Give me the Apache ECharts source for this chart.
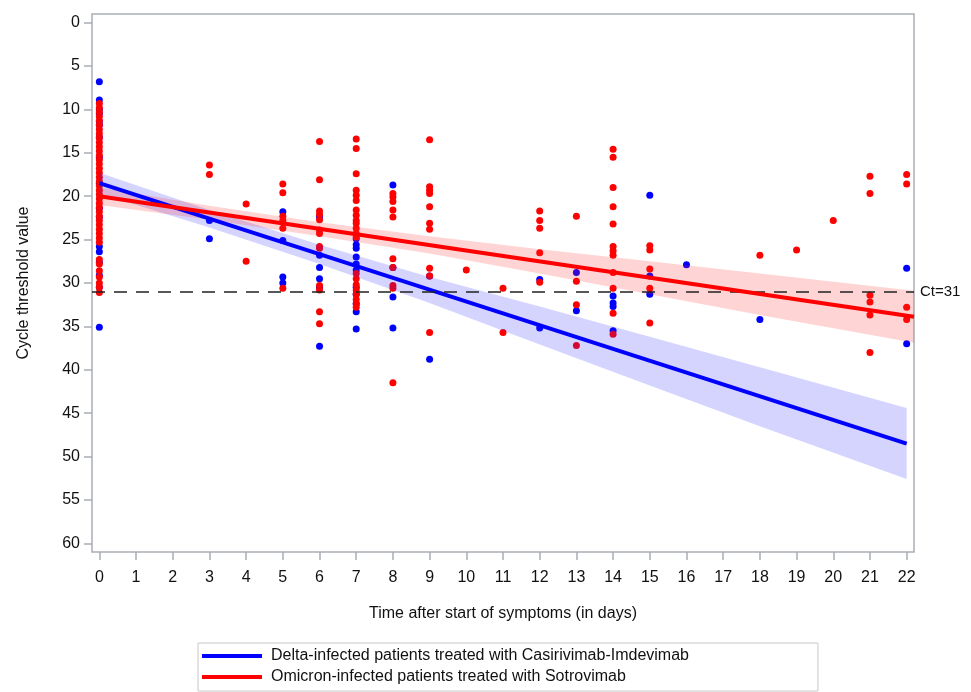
<!DOCTYPE html>
<html>
<head>
<meta charset="utf-8">
<script src="https://cdn.jsdelivr.net/npm/echarts@6/dist/echarts.min.js"></script>
<style>html,body{margin:0;padding:0;background:#fff}#c{width:971px;height:692px}</style>
</head>
<body>
<div id="c"></div>
<script>
// ---- data ----
const xTicks = [0,1,2,3,4,5,6,7,8,9,10,11,12,13,14,15,16,17,18,19,20,21,22];
const yTicks = [0,5,10,15,20,25,30,35,40,45,50,55,60];

const deltaName = 'Delta-infected patients treated with Casirivimab-Imdevimab';
const omicronName = 'Omicron-infected patients treated with Sotrovimab';

// Ct values per day (Delta, blue)
const deltaCt = {
  0: [6.8, 8.9, 10.0, 10.5, 11.4, 11.8, 13.2, 15.5, 18.5, 21.4, 22.4, 25.8, 26.4, 27.6, 29.1, 30.5, 35.1],
  3: [22.8, 24.9],
  5: [21.8, 25.1, 29.3, 30.0],
  6: [22.4, 26.8, 28.2, 29.5, 30.5, 37.3],
  7: [24.9, 25.6, 26.0, 27.0, 27.8, 28.5, 30.5, 31.3, 32.4, 33.3, 35.3],
  8: [18.7, 28.2, 31.6, 35.2],
  9: [29.2, 38.8],
  12: [29.6, 35.2],
  13: [28.8, 33.2],
  14: [31.5, 32.3, 32.7, 35.5],
  15: [19.9, 29.2, 31.3],
  16: [27.9],
  18: [34.2],
  22: [28.3, 37.0]
};
// Ct values per day (Omicron, red)
const omicronCt = {
  0: [9.3, 9.8, 10.3, 10.8, 11.3, 11.8, 12.3, 12.8, 13.3, 13.8, 14.3, 14.8, 15.3, 15.8, 16.3, 16.8, 17.3, 17.8, 18.3, 18.8, 19.3, 19.8, 20.3, 20.8, 21.3, 21.8, 22.3, 22.8, 23.3, 23.8, 24.3, 24.8, 25.3, 27.3, 27.8, 28.6, 29.3, 30.0, 30.5, 31.1],
  3: [16.4, 17.5],
  4: [20.9, 27.5],
  5: [18.6, 19.6, 22.3, 22.8, 23.7, 30.6],
  6: [13.7, 18.1, 21.7, 22.1, 22.7, 23.9, 24.3, 25.8, 26.0, 30.3, 30.8, 33.3, 34.7],
  7: [13.4, 14.5, 17.4, 19.3, 19.9, 20.5, 21.6, 22.2, 22.8, 23.1, 23.7, 24.3, 24.7, 28.9, 29.5, 30.2, 30.8, 31.3, 31.9, 32.4, 32.8],
  8: [19.7, 20.1, 20.6, 21.6, 22.4, 27.2, 28.2, 30.3, 30.6, 41.5],
  9: [13.5, 18.9, 19.3, 19.7, 21.2, 23.1, 23.8, 28.3, 29.2, 35.7],
  10: [28.5],
  11: [30.6, 35.7],
  12: [21.7, 22.8, 23.7, 26.5, 29.9],
  13: [22.3, 29.8, 32.5, 37.2],
  14: [14.6, 15.5, 19.0, 21.2, 23.2, 25.8, 26.3, 26.8, 28.8, 30.6, 33.5, 35.9],
  15: [25.7, 26.2, 28.4, 30.6, 34.6],
  18: [26.8],
  19: [26.2],
  20: [22.8],
  21: [17.7, 19.7, 31.4, 32.2, 33.7, 38.0],
  22: [17.5, 18.6, 32.8, 34.2]
};

// regression lines (read at their ends)
const deltaFitX = [0, 22];
const deltaFit = [18.5, 48.5];
const omicronFitX = [0, 22.2];
const omicronFit = [20.0, 33.9];

// confidence bands read at selected days
const deltaBandX = [0, 3, 6, 9, 12, 15, 18, 22];
const deltaLow = [17.3, 21.6, 25.6, 29.3, 32.7, 36.2, 39.7, 44.4];
const deltaHigh = [19.7, 23.6, 27.8, 32.3, 37.1, 41.8, 46.5, 52.6];
const omicronBandX = [0, 3, 6, 9, 12, 15, 18, 22.2];
const omicronLow = [19.0, 21.1, 23.0, 24.6, 26.1, 27.5, 28.9, 30.9];
const omicronHigh = [21.0, 22.7, 24.6, 26.6, 28.9, 31.3, 33.7, 36.9];

const ctThreshold = 31;

// ---- build ----
function pts(obj){ const out=[]; Object.keys(obj).forEach(k=>obj[k].forEach(v=>out.push([+k, v]))); return out; }
function pairs(xs, ys){ return xs.map((x,i)=>[x, ys[i]]); }
function bandSeries(name, xs, lo, hi, color){
  return {
    name: name, type: 'custom', silent: true, z: 3,
    data: [[xs[0], lo[0]]],
    renderItem: function(params, api){
      const up = xs.map((x,i)=>api.coord([x, hi[i]]));
      const dn = xs.map((x,i)=>api.coord([x, lo[i]])).reverse();
      return {type: 'polygon', shape: {points: up.concat(dn)}, style: {fill: color}};
    }
  };
}

const FONT = 'Liberation Sans, Arial, sans-serif';
const BLUE = '#0000ff', RED = '#ff0000';
const AXC = '#a9adb2';

const chart = echarts.init(document.getElementById('c'), null, {renderer:'canvas'});
chart.setOption({
  animation: false,
  backgroundColor: '#fff',
  textStyle: {fontFamily: FONT},
  grid: {left: 92, right: 57, top: 14, bottom: 140, show: true, borderColor: AXC, borderWidth: 1.5, containLabel: false},
  xAxis: {
    type: 'value', min: -0.2, max: 22.2,
    name: 'Time after start of symptoms (in days)', nameLocation: 'middle', nameGap: 54,
    nameTextStyle: {fontSize: 16, color: '#111', fontFamily: FONT},
    axisLine: {show: false, onZero: false},
    axisTick: {show: true, customValues: xTicks, length: 8, lineStyle: {color: AXC, width: 1.5}},
    axisLabel: {customValues: xTicks, fontSize: 16, color: '#111', margin: 18, fontFamily: FONT},
    splitLine: {show: false}
  },
  yAxis: {
    type: 'value', inverse: true, min: -1, max: 61,
    name: 'Cycle threshold value', nameLocation: 'middle', nameGap: 60, nameRotate: 90,
    nameTextStyle: {fontSize: 16, color: '#111', fontFamily: FONT},
    axisLine: {show: false, onZero: false},
    axisTick: {show: true, customValues: yTicks, length: 8, lineStyle: {color: AXC, width: 1.5}},
    axisLabel: {customValues: yTicks, fontSize: 16, color: '#111', margin: 12, fontFamily: FONT},
    splitLine: {show: false}
  },
  legend: {
    orient: 'vertical', left: 198, top: 643,
    data: [deltaName, omicronName],
    icon: 'rect', itemWidth: 60, itemHeight: 4, itemGap: 5,
    borderColor: '#c8c8c8', borderWidth: 1, padding: [5, 129, 6, 4],
    textStyle: {fontSize: 16, color: '#111', fontFamily: FONT, padding: [0, 0, 0, 4]}
  },
  series: [
    {name: 'deltaPts', type: 'scatter', data: pts(deltaCt), symbolSize: 7, itemStyle: {color: BLUE, opacity: 1}, z: 2},
    {name: 'omicronPts', type: 'scatter', data: pts(omicronCt), symbolSize: 7, itemStyle: {color: RED, opacity: 1}, z: 2},
    bandSeries('deltaBand', deltaBandX, deltaLow, deltaHigh, 'rgba(40,40,255,0.2)'),
    bandSeries('omicronBand', omicronBandX, omicronLow, omicronHigh, 'rgba(255,40,40,0.2)'),
    {name: deltaName, type: 'line', data: pairs(deltaFitX, deltaFit), symbol: 'none', lineStyle: {color: BLUE, width: 4}, itemStyle: {color: BLUE}, z: 4},
    {name: omicronName, type: 'line', data: pairs(omicronFitX, omicronFit), symbol: 'none', lineStyle: {color: RED, width: 4}, itemStyle: {color: RED}, z: 5,
      markLine: {
        silent: true, symbol: ['none','none'],
        lineStyle: {color: '#222', type: [13, 9], width: 1.5},
        label: {show: true, position: 'end', formatter: 'Ct=' + ctThreshold, fontSize: 15, color: '#111', fontFamily: FONT, distance: 6},
        data: [{yAxis: ctThreshold}]
      }
    }
  ]
});
</script>
</body>
</html>
